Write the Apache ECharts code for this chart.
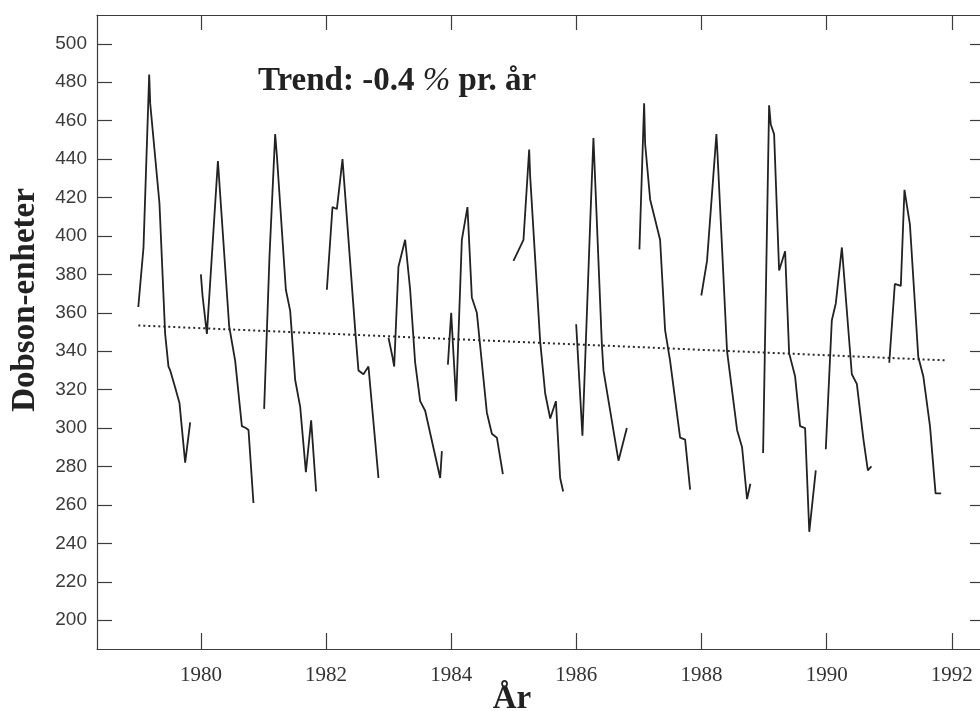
<!DOCTYPE html>
<html><head><meta charset="utf-8">
<script src="https://cdn.jsdelivr.net/npm/echarts@6/dist/echarts.min.js"></script>
<style>html,body{margin:0;padding:0;background:#fff}#c{width:980px;height:711px}</style>
</head><body><div id="c"></div>
<script>
// Tick values
const xTicks = [1980, 1982, 1984, 1986, 1988, 1990, 1992];
const yTicks = [200, 220, 240, 260, 280, 300, 320, 340, 360, 380, 400, 420, 440, 460, 480, 500];

// Monthly total ozone (Dobson units), one segment per year: [decimal year, value]
const oz1979 = [[1979.00,363],[1979.083,394],[1979.174,484],[1979.19,469],[1979.338,417],[1979.429,349],[1979.482,332],[1979.51,330],[1979.59,321],[1979.658,313],[1979.749,282],[1979.829,303]];
const oz1980 = [[1980.00,380],[1980.026,369],[1980.096,349],[1980.272,439],[1980.452,353],[1980.548,335],[1980.655,301],[1980.719,300],[1980.761,299],[1980.840,261]];
const oz1981 = [[1981.011,310],[1981.096,389],[1981.187,453],[1981.214,442],[1981.358,372],[1981.427,361],[1981.507,325],[1981.587,311],[1981.678,277],[1981.762,304],[1981.842,267]];
const oz1982 = [[1982.013,372],[1982.103,415],[1982.173,414],[1982.263,440],[1982.466,351],[1982.518,330],[1982.598,328],[1982.678,332],[1982.838,274]];
const oz1983 = [[1982.998,347],[1983.062,337],[1983.089,332],[1983.157,384],[1983.264,398],[1983.344,372],[1983.424,334],[1983.504,314],[1983.584,309],[1983.824,274],[1983.851,288]];
const oz1984 = [[1983.947,333],[1984.000,360],[1984.027,344],[1984.079,314],[1984.170,398],[1984.260,415],[1984.330,368],[1984.410,360],[1984.570,308],[1984.650,297],[1984.730,295],[1984.826,276]];
const oz1985 = [[1984.995,387],[1985.155,398],[1985.246,445],[1985.262,431],[1985.422,345],[1985.502,318],[1985.582,305],[1985.673,314],[1985.741,274],[1985.789,267]];
const oz1986 = [[1985.997,354],[1986.097,296],[1986.220,406],[1986.273,451],[1986.407,344],[1986.433,330],[1986.673,283],[1986.807,300]];
const oz1987 = [[1987.008,393],[1987.083,469],[1987.099,448],[1987.179,419],[1987.338,398],[1987.418,351],[1987.498,335],[1987.658,295],[1987.738,294],[1987.818,268]];
const oz1988 = [[1987.997,369],[1988.088,387],[1988.238,453],[1988.258,441],[1988.408,340],[1988.568,299],[1988.648,290],[1988.728,263],[1988.781,271]];
const oz1989 = [[1988.984,287],[1989.080,468],[1989.107,458],[1989.160,453],[1989.240,382],[1989.336,392],[1989.400,339],[1989.495,327],[1989.575,301],[1989.655,300],[1989.722,246],[1989.826,278]];
const oz1990 = [[1989.986,289],[1990.082,356],[1990.146,365],[1990.243,394],[1990.402,328],[1990.482,323],[1990.588,294],[1990.658,278],[1990.715,280]];
const oz1991 = [[1991.000,334],[1991.089,375],[1991.185,374],[1991.243,424],[1991.281,416],[1991.330,406],[1991.464,337],[1991.544,327],[1991.651,301],[1991.740,266],[1991.829,266]];

// Linear trend line endpoints
const trendLine = [[1979.00,353.4],[1991.92,335.2]];

// Texts
const trendText = '{a|Trend: -0.4 }{p|%}{a| pr. år}';
const yName = 'Dobson-enheter';
const xName = 'År';

const segments = [oz1979, oz1980, oz1981, oz1982, oz1983, oz1984, oz1985, oz1986, oz1987, oz1988, oz1989, oz1990, oz1991];

const chart = echarts.init(document.getElementById('c'), null, {renderer: 'canvas'});
const axisColor = '#3c3c3c';
const xRange = {min: 1978.34, max: 1992.53};
const yRange = {min: 185, max: 515};

const series = segments.map(seg => ({
  type: 'line', data: seg, symbol: 'none', showSymbol: false,
  lineStyle: {color: '#222', width: 1.8}, silent: true, z: 3
}));
series.push({
  type: 'line', data: trendLine, symbol: 'none', showSymbol: false,
  lineStyle: {color: '#2a2a2a', width: 2, type: [2, 3]}, silent: true, z: 2
});

chart.setOption({
  animation: false,
  backgroundColor: '#fff',
  grid: {left: 97, right: -5, top: 15, bottom: 62, containLabel: false, outerBoundsMode: 'none'},
  xAxis: [{
    type: 'value', position: 'bottom', ...xRange,
    axisLine: {show: true, onZero: false, lineStyle: {color: axisColor, width: 1.2}},
    axisTick: {show: true, inside: true, length: 16, customValues: xTicks, lineStyle: {color: axisColor, width: 1.2}},
    axisLabel: {show: true, customValues: xTicks, margin: 26, verticalAlign: 'middle',
      formatter: v => String(Math.round(v)),
      fontFamily: '"Liberation Serif", serif', fontSize: 21, color: '#333'},
    splitLine: {show: false}
  }, {
    type: 'value', position: 'top', ...xRange,
    axisLine: {show: true, onZero: false, lineStyle: {color: axisColor, width: 1.2}},
    axisTick: {show: true, inside: true, length: 15, customValues: xTicks, lineStyle: {color: axisColor, width: 1.2}},
    axisLabel: {show: false},
    splitLine: {show: false}
  }],
  yAxis: [{
    type: 'value', position: 'left', ...yRange,
    axisLine: {show: true, onZero: false, lineStyle: {color: axisColor, width: 1.2}},
    axisTick: {show: true, inside: true, length: 15, customValues: yTicks, lineStyle: {color: axisColor, width: 1.2}},
    axisLabel: {show: true, customValues: yTicks, margin: 10,
      fontFamily: '"Liberation Sans", sans-serif', fontSize: 19, color: '#3a3a3a'},
    splitLine: {show: false}
  }, {
    type: 'value', position: 'right', ...yRange,
    axisLine: {show: true, onZero: false, lineStyle: {color: axisColor, width: 1.2}},
    axisTick: {show: true, inside: true, length: 15, customValues: yTicks, lineStyle: {color: axisColor, width: 1.2}},
    axisLabel: {show: false},
    splitLine: {show: false}
  }],
  series: series,
  graphic: [{
    type: 'text', x: 258, y: 81, silent: true,
    style: {text: trendText, textAlign: 'left', textVerticalAlign: 'middle',
      font: 'bold 33px "Liberation Serif", serif', fill: '#222',
      rich: {
        a: {fontFamily: '"Liberation Serif", serif', fontWeight: 'bold', fontSize: 33, fill: '#222'},
        p: {fontFamily: '"Liberation Serif", serif', fontStyle: 'italic', fontWeight: 'normal', fontSize: 33, fill: '#222'}
      }}
  }, {
    type: 'text', x: 25, y: 300, rotation: Math.PI / 2, silent: true,
    style: {text: yName, fill: '#222', textAlign: 'center', textVerticalAlign: 'middle',
      font: 'bold 33px "Liberation Serif", serif'}
  }, {
    type: 'text', x: 512, y: 699, silent: true,
    style: {text: xName, fill: '#222', textAlign: 'center', textVerticalAlign: 'middle',
      font: 'bold 33px "Liberation Serif", serif'}
  }]
});
</script></body></html>
